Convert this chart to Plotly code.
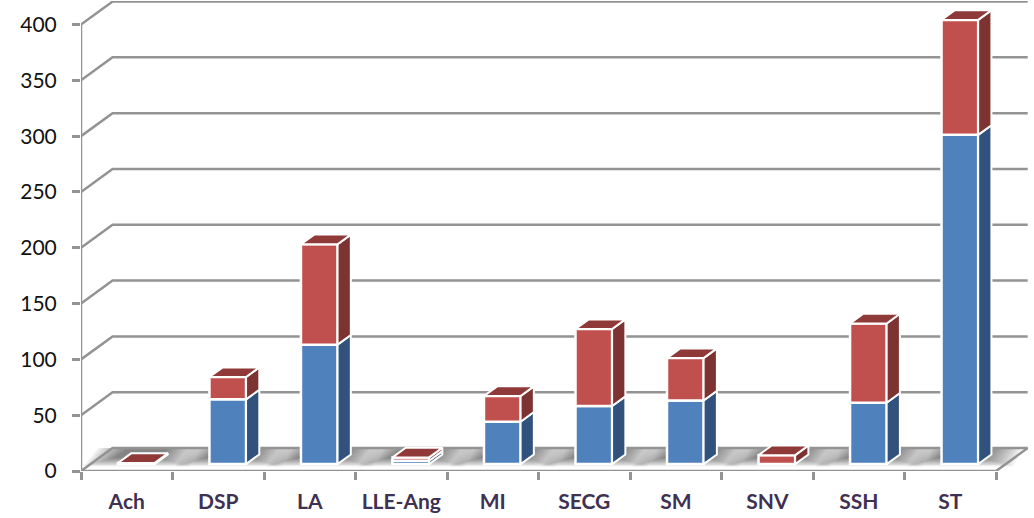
import plotly.graph_objects as go

categories = ["Ach", "DSP", "LA", "LLE-Ang", "MI", "SECG", "SM", "SNV", "SSH", "ST"]
series_blue = [0, 58, 107, 3, 38, 52, 57, 0, 55, 295]
series_red = [1, 20, 90, 3, 23, 69, 38, 8, 71, 103]
y_ticks = [0, 50, 100, 150, 200, 250, 300, 350, 400]

BLUE, BLUE_SIDE = "#4f81bd", "#31527d"
RED, RED_SIDE, RED_TOP = "#c0504d", "#7d3331", "#8f3a38"
GRID = "#939393"
WHITE = "#ffffff"

# oblique projection: depth 0..1 moves a point right and up, in data units
DX, DY = 0.345, 20.6
D1, D2 = 0.30, 0.72
BAR_W = 0.40
n = len(categories)


def proj(x, v, d):
    return x + d * DX, v + d * DY


def path(points):
    return "M " + " L ".join(f"{x:.4f},{y:.4f}" for x, y in points)


shapes = []


def add_shape(d, **kw):
    shapes.append(dict(type="path", path=d, xref="x", yref="y", layer="below", **kw))


# floor shadows: soft nested patches round each bar's footprint
N = 14
for i in range(n):
    left = i + 0.5 - BAR_W / 2 + D1 * DX
    right = i + 0.5 + BAR_W / 2 + D2 * DX
    for k in range(N):
        t = k / (N - 1)
        e = 0.34 * (1 - t)
        df = 0.20 + 0.38 * t
        pts = [(left - e - 0.04, df * DY), (right + e - 0.10, df * DY), (right + e, DY), (left - e + 0.12, DY)]
        add_shape(path(pts) + " Z", fillcolor="rgba(0,0,0,0.042)", line=dict(width=0))

# floor outline, back wall grid lines, left axis line
add_shape(path([proj(0, 0, 0), proj(n, 0, 0), proj(n, 0, 1)]), line=dict(color=GRID, width=2.5))
for v in y_ticks:
    add_shape(path([proj(0, v, 0), proj(0, v, 1), proj(n, v, 1)]), line=dict(color=GRID, width=2.5))
add_shape(path([proj(0, 0, 0), proj(0, 400, 0)]), line=dict(color=GRID, width=2.5))

fig = go.Figure()

bar_x = [i + 0.5 + D1 * DX for i in range(n)]
base_y = D1 * DY
tops_blue = [base_y + b for b in series_blue]
fig.add_trace(go.Bar(x=bar_x, y=series_blue, base=[base_y] * n, width=BAR_W,
                     marker=dict(color=BLUE, line=dict(color=WHITE, width=2.5)), name="Series 1"))
fig.add_trace(go.Bar(x=bar_x, y=series_red, base=tops_blue, width=BAR_W,
                     marker=dict(color=RED, line=dict(color=WHITE, width=2.5)), name="Series 2"))


def side_polys(lo, hi):
    xs, ys = [], []
    for i in range(n):
        if hi[i] <= lo[i]:
            continue
        r = i + 0.5 + BAR_W / 2
        for p in [proj(r, lo[i], D1), proj(r, lo[i], D2), proj(r, hi[i], D2), proj(r, hi[i], D1), proj(r, lo[i], D1)]:
            xs.append(p[0]); ys.append(p[1])
        xs.append(None); ys.append(None)
    return xs, ys


def top_polys(vals):
    xs, ys = [], []
    for i in range(n):
        l, r = i + 0.5 - BAR_W / 2, i + 0.5 + BAR_W / 2
        for p in [proj(l, vals[i], D1), proj(r, vals[i], D1), proj(r, vals[i], D2), proj(l, vals[i], D2), proj(l, vals[i], D1)]:
            xs.append(p[0]); ys.append(p[1])
        xs.append(None); ys.append(None)
    return xs, ys


zeros = [0] * n
totals = [b + r for b, r in zip(series_blue, series_red)]
for (xs, ys), col in [
    (side_polys(zeros, series_blue), BLUE_SIDE),
    (side_polys(series_blue, totals), RED_SIDE),
    (top_polys(totals), RED_TOP),
]:
    fig.add_trace(go.Scatter(x=xs, y=ys, mode="lines", fill="toself", fillcolor=col,
                             line=dict(color=WHITE, width=2), hoverinfo="skip"))

fig.update_layout(
    width=1034, height=518,
    margin=dict(l=81, r=4, t=1, b=47),
    paper_bgcolor=WHITE, plot_bgcolor=WHITE,
    barmode="overlay", showlegend=False, shapes=shapes,
    xaxis=dict(range=[0, 10.37], showgrid=False, zeroline=False, showline=False,
               tickmode="array", tickvals=[i + 0.5 for i in range(n)], ticktext=categories,
               ticks="", ticklabelstandoff=16,
               tickfont=dict(family="Lato", size=21, color="#3f3151", weight="bold"),
               minor=dict(tickmode="array", tickvals=list(range(n + 1)), ticks="outside",
                          ticklen=8, tickwidth=2.5, tickcolor=GRID, showgrid=False)),
    yaxis=dict(range=[0, 421.1], showgrid=False, zeroline=False, showline=False,
               tickmode="array", tickvals=y_ticks, ticks="outside", ticklen=8, tickwidth=2.5,
               tickcolor=GRID, ticklabelstandoff=11,
               tickfont=dict(family="Lato", size=21, color="#111111")),
)

fig.write_html("out.html", config=dict(displayModeBar=False),
               post_script="document.body.style.margin='0';")
